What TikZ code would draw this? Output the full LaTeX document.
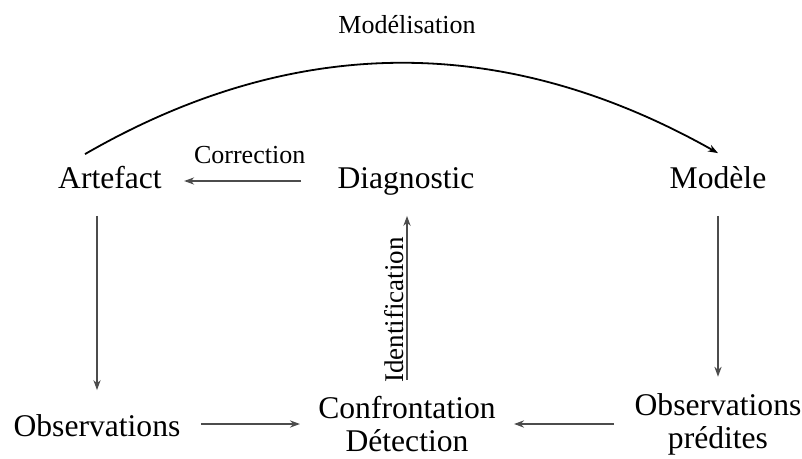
\documentclass[tikz,border=0pt]{standalone}
\usepackage{fontspec}
\setmainfont{Liberation Serif}
\usetikzlibrary{arrows.meta}

\begin{document}
\begin{tikzpicture}[
		x=0.5pt, y=-0.5pt,
		% Styles des noeuds
		etat/.style={inner sep=0pt, align=center, font=\fontsize{15.8}{16.5}\selectfont},
		ligne/.style={etat, text height=11pt, text depth=3.5pt},
		etiq/.style={inner sep=1pt, font=\fontsize{13}{15}\selectfont},
		% Style des fleches
		fleche/.style={-{Stealth[length=5pt, width=3.6pt]}, draw=black!70, line width=0.8pt}
		]
		\useasboundingbox (0,0) rectangle (802,459);
		
		% --- NOEUDS DU HAUT ---
		\node[ligne] (artefact) at (110,181) {Artefact};
		\node[ligne] (diag) at (406,181) {Diagnostic};
		\node[ligne] (modele) at (718,181) {Modèle};
		
		% --- NOEUDS DU BAS ---
		\node[ligne] (obs) at (97,429) {Observations};
		\node[etat] (confr) at (407,424) {Confrontation\\Détection};
		\node[etat] (predites) at (718,424) {Observations\\prédites};
		
		% --- FLECHES VERTICALES ---
		\draw[fleche, shorten <=10pt, shorten >=12pt] (artefact.south -| obs) -- (obs.north);
		\draw[fleche, shorten <=10pt, shorten >=8pt] (modele.south) -- (modele.south |- predites.north);
		\draw[fleche, shorten <=8pt, shorten >=10pt] (confr.north) -- node[etiq, pos=0.43, sloped, above, font=\fontsize{13.5}{15}\selectfont] {Identification} (confr.north |- diag.south);
		
		% --- FLECHES HORIZONTALES ---
		\draw[fleche, shorten <=18pt, shorten >=11pt] (diag.west) -- node[etiq, midway, above=7pt] {Correction} (diag.west -| artefact.east);
		\draw[fleche, shorten <=10pt, shorten >=9pt] (obs.east |- confr) -- (confr.west);
		\draw[fleche, shorten <=10pt, shorten >=9pt] (predites.west) -- (confr.east);
		
		% --- MODELISATION ---
		\draw[fleche, draw=black, line width=0.9pt] ([xshift=-12.5pt, yshift=6pt]artefact.north) .. controls (295,33) and (505,33) .. ([yshift=6.5pt]modele.north);
		\node[etiq] (modelisation) at (407,25) {Modélisation};
		
	\end{tikzpicture}
\end{document}
